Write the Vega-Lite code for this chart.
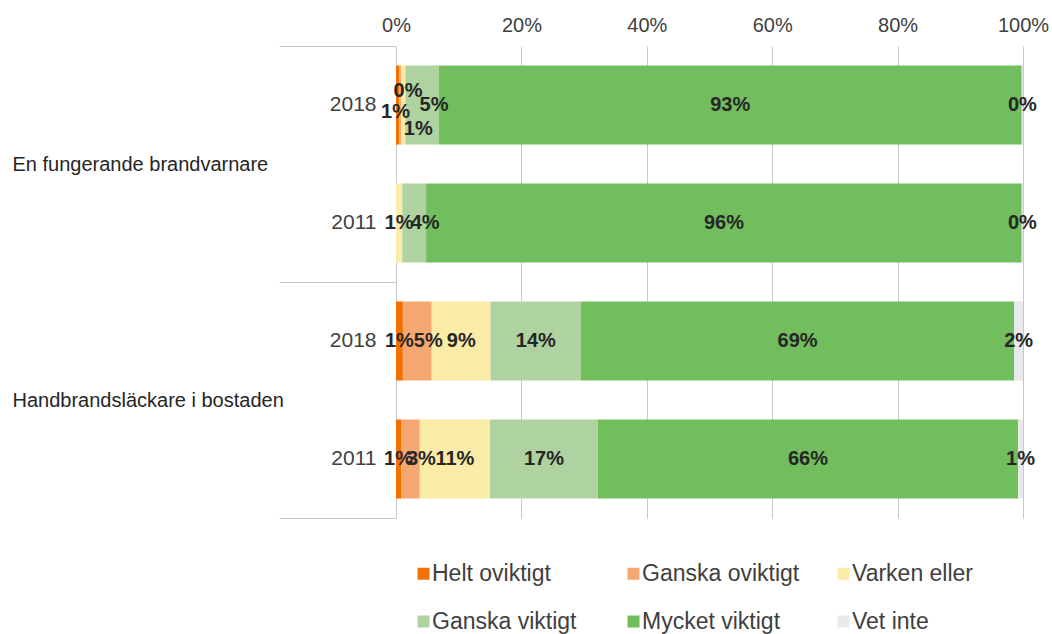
{
  "$schema": "https://vega.github.io/schema/vega-lite/v6.json",
  "width": 627,
  "height": 472,
  "padding": {"left": 12, "top": 15, "right": 5, "bottom": 0},
  "background": "white",
  "config": {
    "view": {"stroke": null},
    "font": "Liberation Sans",
    "axis": {"labelFont": "Liberation Sans", "labelColor": "#404040"}
  },
  "data": {
    "values": [
      {"group": "En fungerande brandvarnare", "bar": "En fungerande brandvarnare 2018", "category": "Helt oviktigt", "ord": 1, "value": 0.5, "label": "1%"},
      {"group": "En fungerande brandvarnare", "bar": "En fungerande brandvarnare 2018", "category": "Ganska oviktigt", "ord": 2, "value": 0.3, "label": "0%"},
      {"group": "En fungerande brandvarnare", "bar": "En fungerande brandvarnare 2018", "category": "Varken eller", "ord": 3, "value": 0.7, "label": "1%"},
      {"group": "En fungerande brandvarnare", "bar": "En fungerande brandvarnare 2018", "category": "Ganska viktigt", "ord": 4, "value": 5.3, "label": "5%"},
      {"group": "En fungerande brandvarnare", "bar": "En fungerande brandvarnare 2018", "category": "Mycket viktigt", "ord": 5, "value": 93.0, "label": "93%"},
      {"group": "En fungerande brandvarnare", "bar": "En fungerande brandvarnare 2018", "category": "Vet inte", "ord": 6, "value": 0.2, "label": "0%"},
      {"group": "En fungerande brandvarnare", "bar": "En fungerande brandvarnare 2011", "category": "Varken eller", "ord": 3, "value": 1.0, "label": "1%"},
      {"group": "En fungerande brandvarnare", "bar": "En fungerande brandvarnare 2011", "category": "Ganska viktigt", "ord": 4, "value": 3.8, "label": "4%"},
      {"group": "En fungerande brandvarnare", "bar": "En fungerande brandvarnare 2011", "category": "Mycket viktigt", "ord": 5, "value": 95.0, "label": "96%"},
      {"group": "En fungerande brandvarnare", "bar": "En fungerande brandvarnare 2011", "category": "Vet inte", "ord": 6, "value": 0.2, "label": "0%"},
      {"group": "Handbrandsläckare i bostaden", "bar": "Handbrandsläckare i bostaden 2018", "category": "Helt oviktigt", "ord": 1, "value": 1.1, "label": "1%"},
      {"group": "Handbrandsläckare i bostaden", "bar": "Handbrandsläckare i bostaden 2018", "category": "Ganska oviktigt", "ord": 2, "value": 4.6, "label": "5%"},
      {"group": "Handbrandsläckare i bostaden", "bar": "Handbrandsläckare i bostaden 2018", "category": "Varken eller", "ord": 3, "value": 9.4, "label": "9%"},
      {"group": "Handbrandsläckare i bostaden", "bar": "Handbrandsläckare i bostaden 2018", "category": "Ganska viktigt", "ord": 4, "value": 14.4, "label": "14%"},
      {"group": "Handbrandsläckare i bostaden", "bar": "Handbrandsläckare i bostaden 2018", "category": "Mycket viktigt", "ord": 5, "value": 69.1, "label": "69%"},
      {"group": "Handbrandsläckare i bostaden", "bar": "Handbrandsläckare i bostaden 2018", "category": "Vet inte", "ord": 6, "value": 1.4, "label": "2%"},
      {"group": "Handbrandsläckare i bostaden", "bar": "Handbrandsläckare i bostaden 2011", "category": "Helt oviktigt", "ord": 1, "value": 0.8, "label": "1%"},
      {"group": "Handbrandsläckare i bostaden", "bar": "Handbrandsläckare i bostaden 2011", "category": "Ganska oviktigt", "ord": 2, "value": 3.0, "label": "3%"},
      {"group": "Handbrandsläckare i bostaden", "bar": "Handbrandsläckare i bostaden 2011", "category": "Varken eller", "ord": 3, "value": 11.2, "label": "11%"},
      {"group": "Handbrandsläckare i bostaden", "bar": "Handbrandsläckare i bostaden 2011", "category": "Ganska viktigt", "ord": 4, "value": 17.2, "label": "17%"},
      {"group": "Handbrandsläckare i bostaden", "bar": "Handbrandsläckare i bostaden 2011", "category": "Mycket viktigt", "ord": 5, "value": 67.0, "label": "66%"},
      {"group": "Handbrandsläckare i bostaden", "bar": "Handbrandsläckare i bostaden 2011", "category": "Vet inte", "ord": 6, "value": 0.8, "label": "1%"}
    ]
  },
  "layer": [
    {
      "mark": {"type": "point", "opacity": 0},
      "encoding": {
        "y": {
          "field": "group", "type": "nominal", "sort": null,
          "scale": {"paddingInner": 0, "paddingOuter": 0},
          "axis": {
            "orient": "left", "title": null, "domain": false,
            "tickBand": "extent", "tickSize": 117, "tickColor": "#c8c8c8", "tickWidth": 1,
            "labelAlign": "left", "labelPadding": 267, "labelFontSize": 20,
            "labelColor": "#262626", "labelLimit": 380
          }
        }
      }
    },
    {
      "layer": [
        {
          "mark": {"type": "bar"},
          "encoding": {
            "y": {
              "field": "bar", "type": "nominal", "sort": null,
              "scale": {"paddingInner": 0.33, "paddingOuter": 0.165},
              "axis": {
                "orient": "left", "title": null, "domain": false, "ticks": false,
                "labelExpr": "slice(datum.label, -4)", "labelFontSize": 21, "labelPadding": 20
              }
            },
            "x": {
              "field": "value", "type": "quantitative", "stack": "normalize",
              "scale": {"domain": [0, 1]},
              "axis": {
                "orient": "top", "title": null, "format": ".0%", "values": [0, 0.2, 0.4, 0.6, 0.8, 1],
                "domain": false, "ticks": false, "labelFontSize": 20, "labelPadding": 11,
                "labelFlush": false, "gridColor": "#c8c8c8", "gridWidth": 1
              }
            },
            "order": {"field": "ord", "type": "quantitative"},
            "color": {
              "field": "category", "type": "nominal",
              "scale": {
                "domain": ["Helt oviktigt", "Ganska oviktigt", "Varken eller", "Ganska viktigt", "Mycket viktigt", "Vet inte"],
                "range": ["#f27100", "#f5a772", "#faeba6", "#aed3a0", "#72be5e", "#e9e9e9"]
              },
              "legend": {
                "title": null, "orient": "bottom", "columns": 3, "gridAlign": "all",
                "symbolType": "square", "symbolSize": 144, "symbolStrokeWidth": 0,
                "labelFontSize": 23, "labelColor": "#404040", "labelFont": "Liberation Sans",
                "columnPadding": 32, "rowPadding": 24, "offset": 28, "padding": 16, "labelOffset": -3,
                "labelLimit": 300
              }
            }
          }
        },
        {
          "mark": {"type": "text", "fontWeight": "bold", "fontSize": 20, "color": "#262626"},
          "encoding": {
            "y": {"field": "bar", "type": "nominal", "sort": null},
            "x": {"field": "value", "type": "quantitative", "stack": "normalize", "bandPosition": 0.5},
            "detail": {"field": "category"},
            "order": {"field": "ord", "type": "quantitative"},
            "text": {
              "condition": {"test": "!(datum.bar == 'En fungerande brandvarnare 2018' && datum.ord <= 4) && !(datum.bar == 'En fungerande brandvarnare 2011' && datum.ord == 4) && !(datum.group == 'Handbrandsläckare i bostaden' && datum.ord == 2)", "field": "label"},
              "value": ""
            }
          }
        },
        {
          "mark": {"type": "text", "fontWeight": "bold", "fontSize": 20, "color": "#262626", "dx": 11},
          "encoding": {
            "y": {"field": "bar", "type": "nominal", "sort": null},
            "x": {"field": "value", "type": "quantitative", "stack": "normalize", "bandPosition": 0.5},
            "detail": {"field": "category"},
            "order": {"field": "ord", "type": "quantitative"},
            "text": {
              "condition": {"test": "(datum.bar == 'En fungerande brandvarnare 2011' && datum.ord == 4) || (datum.group == 'Handbrandsläckare i bostaden' && datum.ord == 2)", "field": "label"},
              "value": ""
            }
          }
        },
        {
          "mark": {"type": "text", "fontWeight": "bold", "fontSize": 20, "color": "#262626", "dx": -2, "dy": 7},
          "encoding": {
            "y": {"field": "bar", "type": "nominal", "sort": null},
            "x": {"field": "value", "type": "quantitative", "stack": "normalize", "bandPosition": 0.5},
            "detail": {"field": "category"},
            "order": {"field": "ord", "type": "quantitative"},
            "text": {
              "condition": {"test": "datum.bar == 'En fungerande brandvarnare 2018' && datum.ord == 1", "field": "label"},
              "value": ""
            }
          }
        },
        {
          "mark": {"type": "text", "fontWeight": "bold", "fontSize": 20, "color": "#262626", "dx": 8, "dy": -14},
          "encoding": {
            "y": {"field": "bar", "type": "nominal", "sort": null},
            "x": {"field": "value", "type": "quantitative", "stack": "normalize", "bandPosition": 0.5},
            "detail": {"field": "category"},
            "order": {"field": "ord", "type": "quantitative"},
            "text": {
              "condition": {"test": "datum.bar == 'En fungerande brandvarnare 2018' && datum.ord == 2", "field": "label"},
              "value": ""
            }
          }
        },
        {
          "mark": {"type": "text", "fontWeight": "bold", "fontSize": 20, "color": "#262626", "dx": 15, "dy": 24},
          "encoding": {
            "y": {"field": "bar", "type": "nominal", "sort": null},
            "x": {"field": "value", "type": "quantitative", "stack": "normalize", "bandPosition": 0.5},
            "detail": {"field": "category"},
            "order": {"field": "ord", "type": "quantitative"},
            "text": {
              "condition": {"test": "datum.bar == 'En fungerande brandvarnare 2018' && datum.ord == 3", "field": "label"},
              "value": ""
            }
          }
        },
        {
          "mark": {"type": "text", "fontWeight": "bold", "fontSize": 20, "color": "#262626", "dx": 12, "dy": 0},
          "encoding": {
            "y": {"field": "bar", "type": "nominal", "sort": null},
            "x": {"field": "value", "type": "quantitative", "stack": "normalize", "bandPosition": 0.5},
            "detail": {"field": "category"},
            "order": {"field": "ord", "type": "quantitative"},
            "text": {
              "condition": {"test": "datum.bar == 'En fungerande brandvarnare 2018' && datum.ord == 4", "field": "label"},
              "value": ""
            }
          }
        }
      ]
    }
  ],
  "resolve": {"scale": {"y": "independent"}, "axis": {"y": "independent"}}
}
